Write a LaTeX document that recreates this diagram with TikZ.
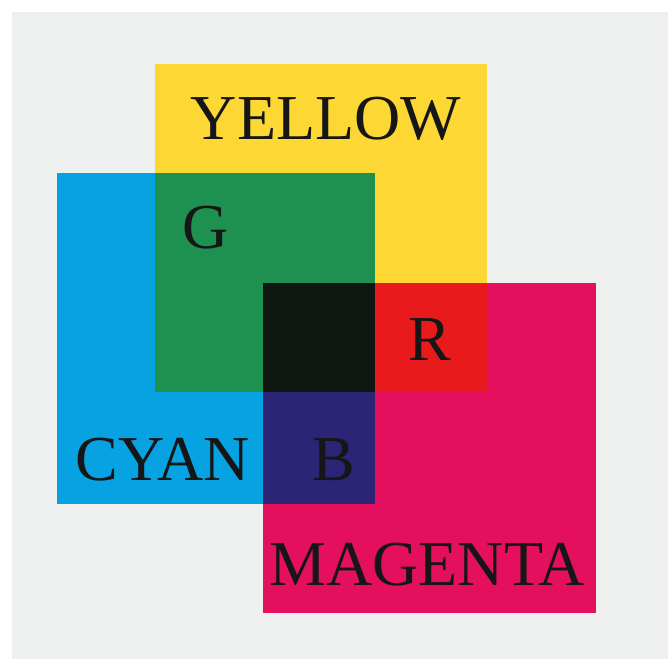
\documentclass[tikz,border=0pt]{standalone}
\usepackage{fontspec}
\setmainfont{Liberation Serif}

\definecolor{cmPaper}{HTML}{EEF0F0}
\definecolor{cmYellow}{HTML}{FDD835}
\definecolor{cmCyan}{HTML}{06A2E2}
\definecolor{cmMagenta}{HTML}{E4105E}
\definecolor{cmGreen}{HTML}{1E9150}
\definecolor{cmRed}{HTML}{E81A1B}
\definecolor{cmBlue}{HTML}{2B2477}
\definecolor{cmBlack}{HTML}{0F1511}
\definecolor{cmInk}{HTML}{161616}

\begin{document}
\begin{tikzpicture}[
  x=1pt, y=-1pt, font=\fontsize{64}{64}\selectfont, text=cmInk,
  cm label/.style={anchor=base,inner sep=0pt}
]
% Edges of the three filter squares (picture pixels, y downwards).
\def\yL{155} \def\yR{487} \def\yT{64}  \def\yB{392}
\def\cL{57}  \def\cR{375} \def\cT{173} \def\cB{504}
\def\mL{263} \def\mR{596} \def\mT{283} \def\mB{613}

% Paper.
\useasboundingbox (0,0) rectangle (672,666);
\fill[white] (0,0) rectangle (672,666);
\fill[cmPaper] (12,12) rectangle (668,659);

% Primary squares.
\fill[cmYellow] (\yL,\yT) rectangle (\yR,\yB);
\fill[cmCyan] (\cL,\cT) rectangle (\cR,\cB);
\fill[cmMagenta] (\mL,\mT) rectangle (\mR,\mB);

% Overlaps: two filters give G, R, B; all three give black.
\fill[cmGreen] (\yL,\cT) rectangle (\cR,\yB);
\fill[cmRed] (\cR,\mT) rectangle (\yR,\yB);
\fill[cmBlue] (\mL,\yB) rectangle (\cR,\cB);
\fill[cmBlack] (\mL,\mT) rectangle (\cR,\yB);

% Labels.
\node[cm label] (yellow) at (326,140) {YELLOW};
\node[cm label] (green) at (206,248) {G};
\node[cm label] (red) at (430,360) {R};
\node[cm label] (cyan) at (163,480) {CYAN};
\node[cm label] (blue) at (334,480) {B};
\node[cm label] (magenta) at (427,585) {MAGENTA};
\end{tikzpicture}
\end{document}
